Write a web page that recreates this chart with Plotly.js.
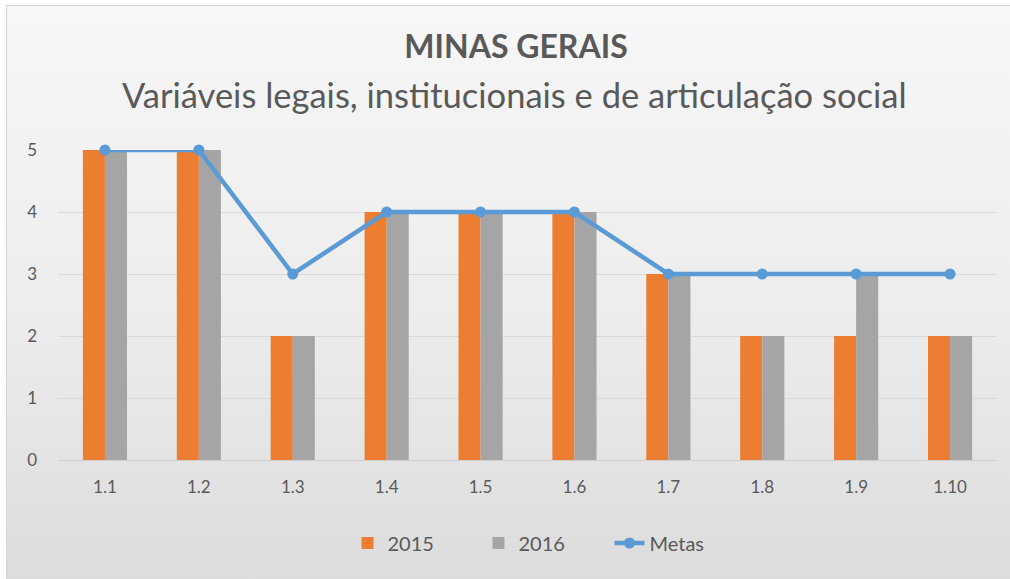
<!DOCTYPE html>
<html>
<head>
<meta charset="utf-8">
<script src="https://cdn.plot.ly/plotly-3.0.1.min.js"></script>
<style>
  html, body { margin: 0; padding: 0; background: #ffffff; overflow: hidden; width: 1010px; height: 579px; }
  #bg {
    position: absolute; left: 6px; top: 5px; width: 1004px; height: 574px;
    border-left: 1px solid #d4d4d4; border-top: 1px solid #d4d4d4;
    background: linear-gradient(to bottom, #f7f7f7 0%, #ececec 55%, #dcdcdc 100%);
  }
  #chart { position: absolute; left: 0; top: 0; width: 1010px; height: 579px; }
</style>
</head>
<body>
<div id="bg"></div>
<div id="chart"></div>
<script>
const categories = ["1.1", "1.2", "1.3", "1.4", "1.5", "1.6", "1.7", "1.8", "1.9", "1.10"];
const values2015 = [5, 5, 2, 4, 4, 4, 3, 2, 2, 2];
const values2016 = [5, 5, 2, 4, 4, 4, 3, 2, 3, 2];
const metas = [5, 5, 3, 4, 4, 4, 3, 3, 3, 3];
const yTicks = [0, 1, 2, 3, 4, 5];
const titleText = "MINAS GERAIS";
const subtitleText = "Variáveis legais, institucionais e de articulação social";

const FONT = "Lato, 'Open Sans', sans-serif";
const TXT = "#595959";

const traces = [
  { type: "bar", name: "2015", x: categories, y: values2015, marker: { color: "#ED7D31" } },
  { type: "bar", name: "2016", x: categories, y: values2016, marker: { color: "#A5A5A5" } },
  { type: "scatter", mode: "lines+markers", name: "Metas", x: categories, y: metas,
    line: { color: "#5B9BD5", width: 4.5 }, marker: { color: "#5B9BD5", size: 11 }, cliponaxis: false }
];

const layout = {
  width: 1010, height: 579,
  paper_bgcolor: "rgba(0,0,0,0)", plot_bgcolor: "rgba(0,0,0,0)",
  margin: { l: 58, r: 13, t: 150, b: 119, autoexpand: false },
  font: { family: FONT, color: TXT, size: 17 },
  title: { text: "<b>" + titleText + "</b>", x: 516 / 1010, xanchor: "center", xref: "container",
           y: 1 - 47 / 579, yanchor: "middle", yref: "container",
           font: { family: FONT, size: 32, color: TXT } },
  annotations: [{ text: subtitleText, xref: "paper", yref: "paper", x: (514 - 58) / 939, y: (460 - 95) / 310,
                  xanchor: "center", yanchor: "middle", showarrow: false,
                  font: { family: FONT, size: 34.5, color: TXT } }],
  barmode: "group", bargap: 0.53, bargroupgap: 0,
  xaxis: { type: "category", range: [-0.5, categories.length - 0.5], showgrid: false, zeroline: false,
           showline: false, ticks: "", automargin: false,
           tickfont: { size: 17, color: TXT }, ticklabelstandoff: 15 },
  yaxis: { range: [0, 5], tickvals: yTicks, showgrid: true, gridcolor: "#d9d9d9", gridwidth: 1, automargin: false,
           zeroline: true, zerolinecolor: "#d0d0d0", zerolinewidth: 1, showline: false, ticks: "",
           tickfont: { size: 17, color: TXT }, ticklabelstandoff: 20 },
  legend: { orientation: "h", x: (544 - 58) / 939, xanchor: "center", y: (460 - 543) / 310, yanchor: "middle",
            font: { size: 20, color: TXT }, bgcolor: "rgba(0,0,0,0)", traceorder: "normal",
            entrywidth: 86, entrywidthmode: "pixels" },
  showlegend: true
};

Plotly.newPlot("chart", traces, layout, { displayModeBar: false, staticPlot: true });
</script>
</body>
</html>
